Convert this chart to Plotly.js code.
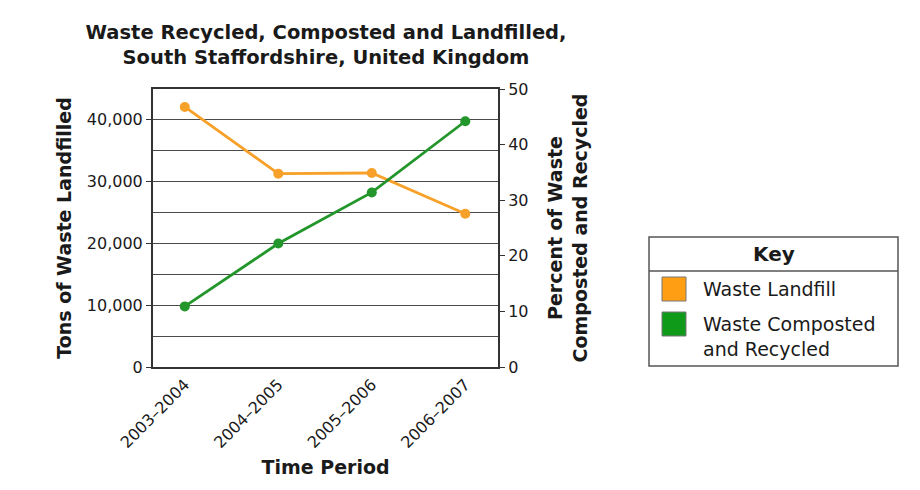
<!DOCTYPE html>
<html>
<head>
<meta charset="utf-8">
<script src="https://cdn.plot.ly/plotly-3.0.1.min.js"></script>
<style>
  html, body { margin: 0; padding: 0; background: #fff; }
  #chart { width: 920px; height: 490px; }
</style>
</head>
<body>
<div id="chart"></div>
<script>
// data
const periods = ['2003\u20132004', '2004\u20132005', '2005\u20132006', '2006\u20132007'];
const tons_landfilled = [42100, 31300, 31400, 24800];
const percent_recycled = [10.9, 22.2, 31.4, 44.2];

const legend_labels = ['Waste Landfill', 'Waste Composted<br>and Recycled'];

const orange_line = '#f7a12a';
const green_line = '#22962a';
const orange_swatch = '#ff9e12';
const green_swatch = '#0f9a1a';
const grid_color = '#4a4a4a';
const text_color = '#1a1a1a';
const font_family = '"DejaVu Sans", Verdana, sans-serif';

// plot area in pixels
const W = 920, H = 490;
const margin = { l: 153, r: 422, t: 89, b: 123 };
const plotW = W - margin.l - margin.r;
const plotH = H - margin.t - margin.b;

// convert page pixels to paper coordinates (used for the key box only)
const px = (x) => (x - margin.l) / plotW;
const py = (y) => (H - margin.b - y) / plotH;

const data = [
  {
    x: periods,
    y: tons_landfilled,
    name: legend_labels[0],
    type: 'scatter',
    mode: 'lines+markers',
    line: { color: orange_line, width: 2.8 },
    marker: { color: orange_line, size: 10 },
    yaxis: 'y',
    showlegend: false,
  },
  {
    x: periods,
    y: percent_recycled,
    name: legend_labels[1],
    type: 'scatter',
    mode: 'lines+markers',
    line: { color: green_line, width: 2.8 },
    marker: { color: green_line, size: 10 },
    yaxis: 'y2',
    showlegend: false,
  },
];

// hand-drawn key, like the reference
const key = { x0: 649, x1: 898, top: 237, bottom: 366, headerLine: 271 };
const swatches = [
  { color: orange_swatch, top: 277 },
  { color: green_swatch, top: 312 },
];

const shapes = [
  {
    type: 'rect', xref: 'paper', yref: 'paper',
    x0: px(key.x0), x1: px(key.x1), y0: py(key.bottom), y1: py(key.top),
    line: { color: '#555', width: 1.5 }, fillcolor: 'rgba(0,0,0,0)',
  },
  {
    type: 'line', xref: 'paper', yref: 'paper',
    x0: px(key.x0), x1: px(key.x1), y0: py(key.headerLine), y1: py(key.headerLine),
    line: { color: '#555', width: 1.5 },
  },
];
swatches.forEach((s) => {
  shapes.push({
    type: 'rect', xref: 'paper', yref: 'paper',
    x0: px(662), x1: px(686), y0: py(s.top + 24), y1: py(s.top),
    line: { color: '#777', width: 1 }, fillcolor: s.color,
  });
});

const annotations = [
  {
    xref: 'paper', yref: 'paper', x: px((key.x0 + key.x1) / 2), y: py(254),
    text: '<b>Key</b>', showarrow: false, xanchor: 'center', yanchor: 'middle',
    font: { size: 20, color: text_color, family: font_family },
  },
  {
    xref: 'paper', yref: 'paper', x: px(701), y: py(289),
    text: legend_labels[0], showarrow: false, xanchor: 'left', yanchor: 'middle',
    font: { size: 19, color: text_color, family: font_family },
  },
  {
    xref: 'paper', yref: 'paper', x: px(701), y: py(336),
    text: legend_labels[1], showarrow: false, xanchor: 'left', yanchor: 'middle', align: 'left',
    font: { size: 19, color: text_color, family: font_family },
  },
];

const layout = {
  width: W,
  height: H,
  margin: margin,
  paper_bgcolor: '#fff',
  plot_bgcolor: '#fff',
  font: { family: font_family, size: 16, color: text_color },
  title: {
    text: '<b>Waste Recycled, Composted and Landfilled,<br>South Staffordshire, United Kingdom</b>',
    font: { size: 19.5, color: text_color, family: font_family },
    xref: 'container',
    x: 326 / W,
    xanchor: 'center',
    y: 1 - 39 / H,
    yanchor: 'middle',
  },
  xaxis: {
    type: 'category',
    range: [-0.34, 3.35],
    showline: true,
    linecolor: '#333',
    linewidth: 2,
    mirror: true,
    showgrid: false,
    ticks: '',
    tickangle: -45,
    tickfont: { size: 16 },
    title: {
      text: '<b>Time Period</b>',
      font: { size: 19 },
      standoff: 10,
    },
  },
  yaxis: {
    range: [0, 45000],
    dtick: 10000,
    tickformat: ',d',
    showline: true,
    linecolor: '#333',
    linewidth: 2,
    ticks: 'outside',
    ticklen: 5,
    tickcolor: '#333',
    showgrid: true,
    gridcolor: grid_color,
    gridwidth: 1.2,
    zeroline: false,
    minor: { dtick: 5000, showgrid: true, gridcolor: grid_color, gridwidth: 1.2 },
    tickfont: { size: 16 },
    title: {
      text: '<b>Tons of Waste Landfilled</b>',
      font: { size: 19 },
      standoff: 10,
    },
  },
  yaxis2: {
    range: [0, 50],
    dtick: 10,
    overlaying: 'y',
    side: 'right',
    showline: true,
    linecolor: '#333',
    linewidth: 2,
    ticks: 'outside',
    ticklen: 5,
    tickcolor: '#333',
    showgrid: false,
    zeroline: false,
    tickfont: { size: 16 },
    title: {
      text: '<b>Percent of Waste<br>Composted and Recycled</b>',
      font: { size: 19 },
      standoff: 21,
    },
  },
  // inner half of the right-hand ticks, which cross the axis line
  yaxis3: {
    range: [0, 50],
    dtick: 10,
    overlaying: 'y',
    side: 'right',
    ticks: 'inside',
    ticklen: 5,
    tickcolor: '#333',
    showticklabels: false,
    showgrid: false,
    zeroline: false,
    showline: false,
  },
  shapes: shapes,
  annotations: annotations,
  showlegend: false,
};

Plotly.newPlot('chart', data, layout, { displayModeBar: false, staticPlot: true });
</script>
</body>
</html>
